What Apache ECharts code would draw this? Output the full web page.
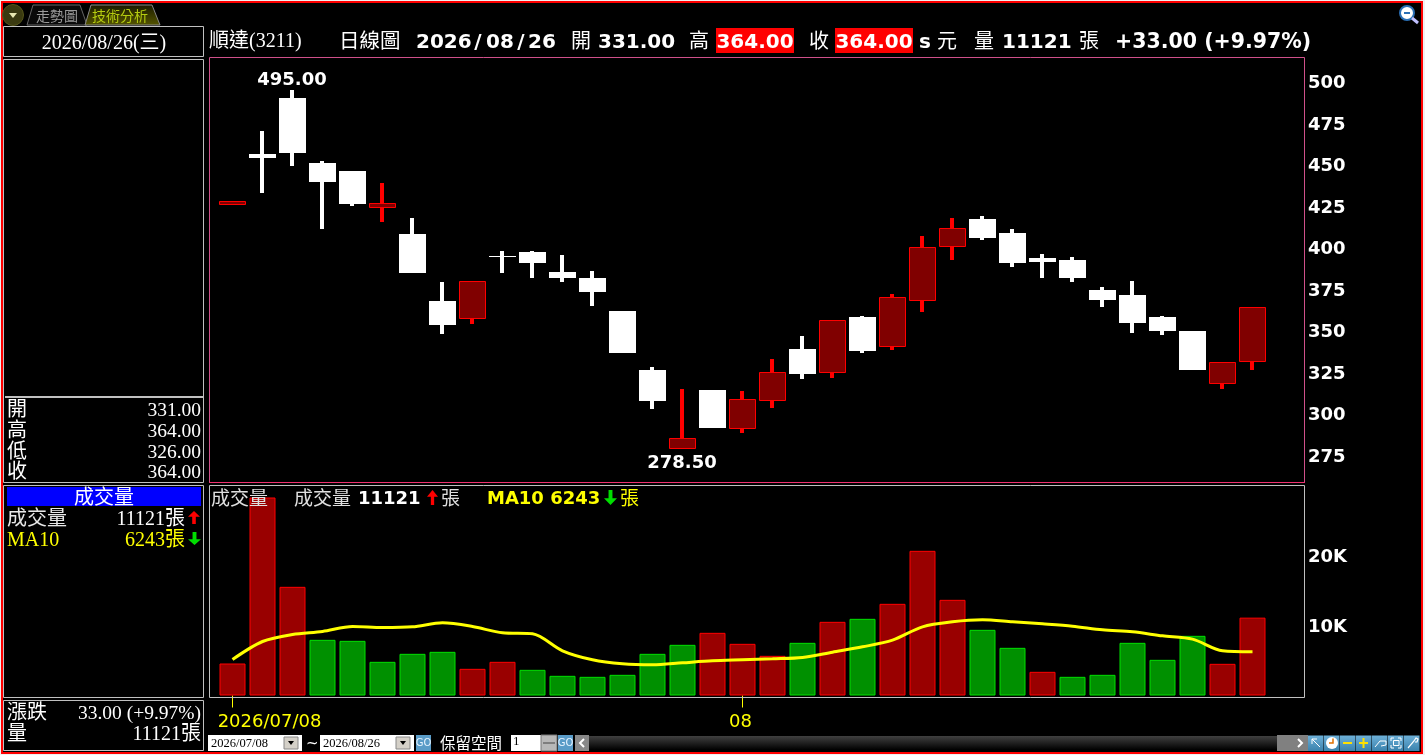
<!DOCTYPE html>
<html><head><meta charset="utf-8">
<style>html,body{margin:0;padding:0;background:#fff}#c{width:1425px;height:755px}</style>
<script src="https://cdn.jsdelivr.net/npm/echarts@6/dist/echarts.min.js"></script>
</head><body><div id="c"></div>
<script>
// ---------- data ----------
const categories = ['2026/07/08','2026/07/09','2026/07/10','2026/07/13','2026/07/14','2026/07/15','2026/07/16','2026/07/17','2026/07/20','2026/07/21','2026/07/22','2026/07/23','2026/07/27','2026/07/28','2026/07/29','2026/07/30','2026/07/31','2026/08/03','2026/08/04','2026/08/05','2026/08/06','2026/08/07','2026/08/10','2026/08/11','2026/08/12','2026/08/13','2026/08/14','2026/08/17','2026/08/18','2026/08/19','2026/08/20','2026/08/21','2026/08/24','2026/08/25','2026/08/26'];
const opens  = [425.5,456,490.2,451,446.2,424,408.3,368,356.8,394.8,397.5,385.5,381.8,362,326.5,278.5,314.4,290.5,307.8,339.1,324.3,358.4,339.9,367.6,400.1,417.4,408.9,393.9,392.7,374.6,371.6,358.4,350,317.7,331];
const closes = [427.8,454,457.1,439.6,426.4,427,384.9,353.6,379.9,394.2,390.9,381.8,373.4,336.7,307.8,285.4,291.6,308.8,325.1,324.1,356.4,337.9,370.2,400.3,411.8,405.9,390.9,391.5,381.8,368.6,354.8,350,326,331.1,364];
const lows   = [425.5,433,449.3,411.3,425.2,415.6,384.9,348.1,354.2,384.9,381.8,379.4,365,336.7,303,278.5,291.6,288.6,303.6,321.1,321.7,336.7,338.5,361.4,392.7,404.7,388.5,381.8,379.4,364.4,348.8,347.5,326,315,326];
const highs  = [427.8,470.3,495,452.3,446.2,439,418,379.4,379.9,398.1,398,395.7,386.1,362,328.3,315,314.4,313.8,333,346.9,356.4,359,372.2,407.1,418,419.2,411.3,396.3,394.5,376.4,380,359,350,331.1,364];
const volumes = [4571,28286,15524,7952,7810,4810,5952,6238,3810,4810,3667,2810,2667,2952,5952,7238,8952,7381,5667,7524,10524,10952,13095,20667,13667,9381,6810,3381,2667,2952,7524,5095,8524,4524,11121];
const volumeRising = [1,1,1,0,0,0,0,0,1,1,0,0,0,0,0,0,1,1,1,0,1,0,1,1,1,0,0,1,0,0,0,0,0,1,1];
const ma10 = [5143,7714,8714,9143,9857,9714,9810,10381,9857,8952,8810,6381,5095,4524,4381,4667,4952,5095,5238,5429,6190,6952,7905,9810,10524,10810,10524,10238,9905,9381,9095,8524,8048,6381,6243];
const dateTickIndex = [0,17];
const dateTickLabels = ['2026/07/08','08'];
const extremes = [[2,495,'495.00','top'],[15,278.5,'278.50','bottom']];

// ---------- chrome helpers ----------
const SERIF='"Liberation Serif","Noto Sans CJK TC"', BOLD='"DejaVu Sans","Noto Sans CJK TC"', CJK='"Noto Sans CJK TC"';
const g=[];
const T=(x,y,text,font,fill,align)=>g.push({type:'text',z:100,silent:true,style:{x,y,text,font,fill:fill||'#fff',align:align||'left',verticalAlign:'middle'}});
const R=(x,y,w,h,fill,stroke,lw)=>g.push({type:'rect',z:90,silent:true,shape:{x,y,width:w,height:h},style:{fill:fill||'none',stroke:stroke||'none',lineWidth:lw||1}});
const P=(pts,fill,stroke,lw)=>g.push({type:'polygon',z:95,silent:true,shape:{points:pts},style:{fill:fill||'none',stroke:stroke||'none',lineWidth:lw||1}});
const L=(pts,stroke,lw)=>g.push({type:'polyline',z:96,silent:true,shape:{points:pts},style:{fill:'none',stroke,lineWidth:lw||1}});
const C=(cx,cy,r,fill,stroke,lw)=>g.push({type:'circle',z:95,silent:true,shape:{cx,cy,r},style:{fill,stroke:stroke||'none',lineWidth:lw||1}});
const up=(x,y,w,h,c)=>P([[x+w/2,y],[x+w,y+h*.45],[x+w*.65,y+h*.45],[x+w*.65,y+h],[x+w*.35,y+h],[x+w*.35,y+h*.45],[x,y+h*.45]],c);
const down=(x,y,w,h,c)=>P([[x+w/2,y+h],[x+w,y+h*.55],[x+w*.65,y+h*.55],[x+w*.65,y],[x+w*.35,y],[x+w*.35,y+h*.55],[x,y+h*.55]],c);
const grad=(a,b)=>({type:'linear',x:0,y:0,x2:0,y2:1,colorStops:[{offset:0,color:a},{offset:1,color:b}]});

// outer window
R(0,0,1425,1,'#f0f0f0');R(0,753,1425,2,'#f0f0f0');R(0,0,1,755,'#f0f0f0');R(1423,0,2,755,'#f0f0f0');
R(2,2,1420,751,null,'#ff0000',2);
// tabs
C(13,15,10.5,'#3a3a10','#55551a',1);P([[9,13],[17,13],[13,18]],'#e8e8b0');
P([[27,25],[33,5],[80,5],[87,25]],'#0a0a0a','#666',1);
T(36,16,'走勢圖','14px '+CJK,'#9a9a9a');
P([[85,25],[91,5],[152,5],[160,25]],grad('#1a1a00','#555500'),'#888',1);
T(92,16,'技術分析','14px '+CJK,'#b5cc10');
// magnifier
C(1407,13,7,'#ffffff','#2a6fb5',2);L([[1412,18],[1418,23]],'#c0c0ff',3);L([[1404,13],[1410,13]],'#2a6fb5',2);
// left panels
const GREY='#c0c0c0';
R(3.5,26.5,200,30,null,GREY,1);R(3.5,59.5,200,423,null,GREY,1);R(3.5,485.5,200,212,null,GREY,1);R(3.5,700.5,200,50,null,GREY,1);
R(5,396,198,2,GREY);
const F='20px '+SERIF, FV='19.5px '+SERIF;
T(104,44,'2026/08/26(三)',F,'#fff','center');
[['開','331.00',411],['高','364.00',432],['低','326.00',453],['收','364.00',473]].forEach(a=>{T(7,a[2],a[0],F);T(201,a[2],a[1],FV,'#fff','right');});
R(7,487,194,19,'#0000ff');T(104,499,'成交量',F,'#fff','center');
T(7,520,'成交量',F,'#e8e8e8');T(185,520,'11121張',F,'#fff','right');up(188,511,12,13,'#ff0000');
T(7,541,'MA10',F,'#ffff00');T(185,541,'6243張',F,'#ffff00','right');down(188,532,13,13,'#00dd00');
T(7,714,'漲跌',F);T(201,714,'33.00 (+9.97%)',FV,'#fff','right');
T(7,735,'量',F);T(201,735,'11121張',F,'#fff','right');
// header row
T(209,42,'順達(3211)',F);
T(339,40,'日線圖','20.5px '+CJK);
const HB='bold 20px '+BOLD;
T(416,43,'2026',HB);T(478,43,'/',HB,'#fff','center');T(486,43,'08',HB);T(521,43,'/',HB,'#fff','center');T(528,43,'26',HB);
T(571,40,'開','20px '+CJK);T(598,43,'331.00',HB);
T(689,40,'高','20px '+CJK);
R(716,28,78,25,'#ff0000');T(755,43,'364.00',HB,'#fff','center');
T(809,40,'收','20px '+CJK);
R(835,28,78,25,'#ff0000');T(874,43,'364.00',HB,'#fff','center');
T(919,43,'s',HB);T(937,40,'元','20px '+CJK);
T(974,40,'量','20px '+CJK);T(1002,43,'11121',HB);
T(1079,40,'張','20px '+CJK);
T(1115,43,'+33.00 (+9.97%)','bold 20.5px '+BOLD);
// chart frames
R(209.5,57.5,1095,425,null,'#d0508a',1);
L([[209,482.5],[1305,482.5]],'#f03070',1);
R(209.5,485.5,1095,212,null,GREY,1);
// volume header
T(211,498,'成交量','19px '+CJK,'#e0e0e0');
T(294,498,'成交量','19px '+CJK,'#e0e0e0');T(358,499,'11121','bold 18px '+BOLD);
up(427,490,11,15,'#ff0000');T(441,498,'張','19px '+CJK,'#e0e0e0');
T(487,499,'MA10 6243','bold 18px '+BOLD,'#ffff00');
down(604,490,13,15,'#00dd00');T(620,498,'張','19px '+CJK,'#ffff00');
// bottom controls
const sel=(x,w,txt)=>{R(x,735,w,16,'#fff');T(x+3,744,txt,'12.5px '+SERIF,'#000');
  R(x+w-18,737,14,12,'#d4d0c8','#888');P([[x+w-14,741],[x+w-8,741],[x+w-11,745]],'#000');};
sel(208,94,'2026/07/08');T(306,744,'~','15px "DejaVu Sans"');sel(320,94,'2026/08/26');
const go=(x)=>{R(x,735,15,16,'#5a9cc8');T(x+7.5,743,'GO','10px "DejaVu Sans"','#e8f4ff','center');};
go(416);T(440,743,'保留空間','15.5px '+CJK);
R(511,735,30,16,'#fff');T(513,742,'1','13px '+SERIF,'#000');R(541,735,16,16,'#b8b8b8','#777');L([[543,743],[555,743]],'#444');
go(558);
R(575,735,14,16,'#888');L([[584,739],[580,743],[584,747]],'#fff',2);
R(589,736,688,14,grad('#404040','#000000'));
R(1277,735,15,16,'#808080');R(1292,735,16,16,'#808080');L([[1298,739],[1302,743],[1298,747]],'#fff',2);
const bx=[1308,1324,1340,1356,1372,1388,1404];
bx.forEach(x=>R(x,735.5,15.5,15.5,grad('#6db0d8','#3a82ad')));
L([[1312,739],[1320,747]],'#fff',1);L([[1312,744],[1312,739],[1317,739]],'#fff',1);
C(1332,743,6,'#fff');L([[1333,738.5],[1333,743],[1329,743]],'#e07000',1.5);
R(1343,742,9,2,'#ffe000');R(1359,742,9,2,'#ffe000');R(1362.5,738,2,10,'#ffe000');
L([[1375,747],[1380,741],[1386,741],[1386,745],[1381,746]],'#fff',1);
L([[1391,741],[1391,738],[1394,738]],'#fff',1);L([[1398,738],[1401,738],[1401,741]],'#fff',1);L([[1391,745],[1391,748],[1394,748]],'#fff',1);L([[1401,745],[1401,748],[1398,748]],'#fff',1);R(1393.5,740.5,5.5,5,null,'#fff',1);
L([[1408,748],[1414,741],[1416,738],[1418,739],[1417,742],[1415,742]],'#fff',1.2);

// ---------- chart ----------
const rows = categories.map((c,i)=>[i,opens[i],closes[i],lows[i],highs[i]]);
function renderCandle(params,api){
  const i=api.value(0),o=api.value(1),c=api.value(2),lo=api.value(3),hi=api.value(4);
  const x=Math.round(api.coord([i,o])[0]);
  const yO=Math.round(api.coord([i,o])[1]),yC=Math.round(api.coord([i,c])[1]),yL=Math.round(api.coord([i,lo])[1]),yH=Math.round(api.coord([i,hi])[1]);
  const rising=c>o, top=Math.min(yO,yC), bot=Math.max(yO,yC);
  const wc=rising?'#ff0000':'#ffffff';
  return {type:'group',children:[
    {type:'rect',shape:{x:x-2,y:yH,width:4,height:yL-yH},style:{fill:wc}},
    rising
      ? {type:'rect',shape:{x:x-12.5,y:top+.5,width:26,height:Math.max(bot-top-1,2)},style:{fill:'#800000',stroke:'#ff0000',lineWidth:1}}
      : {type:'rect',shape:{x:x-13,y:top,width:27,height:Math.max(bot-top,1)},style:{fill:'#ffffff'}}
  ]};
}
const axisNum={color:'#fff',fontFamily:'DejaVu Sans',fontWeight:'bold',fontSize:18,padding:[4,0,0,0]};
const chart=echarts.init(document.getElementById('c'),null,{renderer:'canvas'});
chart.setOption({
  animation:false,backgroundColor:'#000',
  graphic:{elements:g},
  grid:[
    {left:217,width:1050,top:39.8,height:456.9},
    {left:217.5,width:1050,top:485.5,height:210}
  ],
  xAxis:[
    {type:'category',gridIndex:0,data:categories,axisLine:{show:false},axisTick:{show:false},axisLabel:{show:false},splitLine:{show:false}},
    {type:'category',gridIndex:1,data:categories,
     axisLine:{show:false},splitLine:{show:false},
     axisTick:{show:true,alignWithLabel:true,length:12,interval:(i)=>dateTickIndex.includes(i),lineStyle:{color:'#ffff00',width:1}},
     axisLabel:{show:true,margin:18,hideOverlap:false,interval:(i)=>dateTickIndex.includes(i),
       formatter:(v,i)=>{const k=dateTickIndex.indexOf(i);if(k<0)return '';return k===0?'{a|'+dateTickLabels[k]+'}':'{b|'+dateTickLabels[k]+'}';},
       rich:{a:{color:'#ffff00',fontSize:18,fontFamily:'DejaVu Sans',padding:[0,0,0,74]},b:{color:'#ffff00',fontSize:18,fontFamily:'DejaVu Sans',padding:[0,4,0,0]}}}}
  ],
  yAxis:[
    {type:'value',gridIndex:0,position:'right',min:250,max:525,interval:25,axisLine:{show:false},axisTick:{show:false},splitLine:{show:false},
     axisLabel:{margin:41,align:'left',formatter:v=>(v<275||v>500)?'':'{n|'+v+'}',rich:{n:axisNum}}},
    {type:'value',gridIndex:1,position:'right',min:0,max:30000,interval:10000,axisLine:{show:false},axisTick:{show:false},splitLine:{show:false},
     axisLabel:{margin:40.5,align:'left',formatter:v=>(v===10000||v===20000)?'{n|'+(v/1000)+'K}':'',rich:{n:axisNum}}}
  ],
  series:[
    {name:'K',type:'custom',xAxisIndex:0,yAxisIndex:0,data:rows,encode:{x:0,y:[1,2,3,4]},renderItem:renderCandle,clip:false,z:3},
    {name:'extremes',type:'scatter',xAxisIndex:0,yAxisIndex:0,symbolSize:0,z:5,itemStyle:{opacity:1},
     data:extremes.map(e=>({value:[e[0],e[1]],label:{show:true,position:e[3],distance:e[3]==='top'?0:5,formatter:e[2],color:'#fff',fontFamily:'DejaVu Sans',fontWeight:'bold',fontSize:18}}))},
    {name:'成交量',type:'bar',xAxisIndex:1,yAxisIndex:1,barWidth:26,z:3,
     data:volumes.map((v,i)=>({value:v,itemStyle:{color:volumeRising[i]?'#990000':'#009000',borderColor:volumeRising[i]?'#ff0000':'#00e000',borderWidth:1}}))},
    {name:'MA10',type:'line',xAxisIndex:1,yAxisIndex:1,data:ma10,smooth:0.3,showSymbol:false,symbol:'none',lineStyle:{color:'#ffff00',width:3},z:4}
  ]
});
</script></body></html>
